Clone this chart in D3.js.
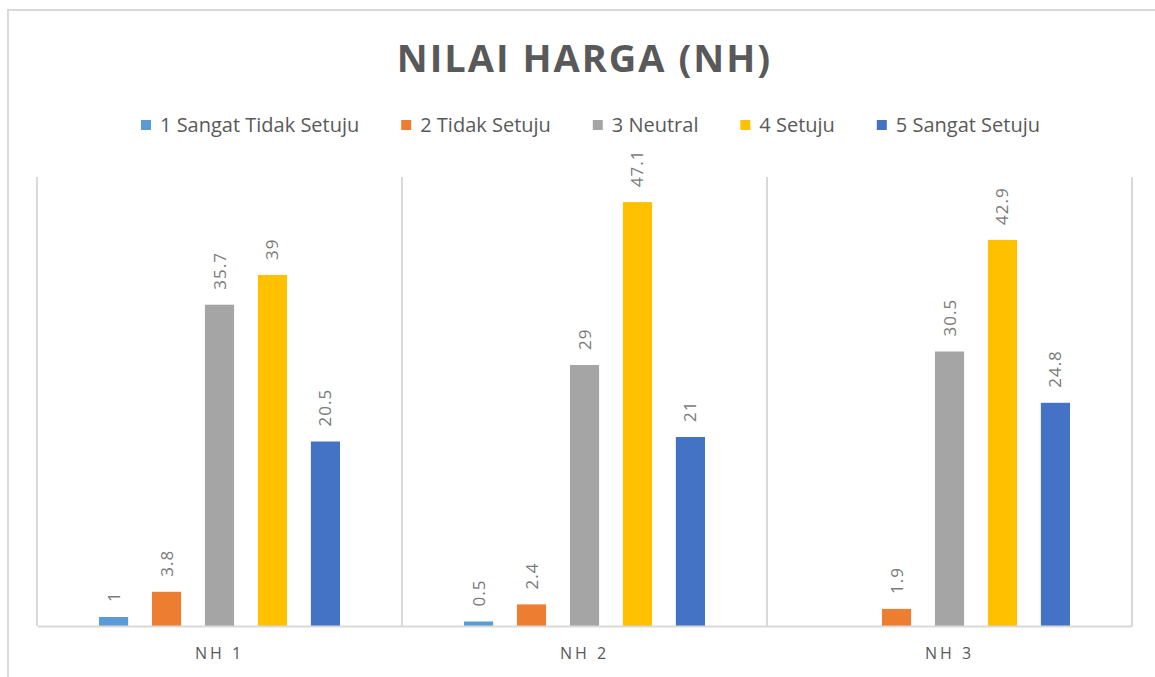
<!DOCTYPE html>
<html>
<head>
<meta charset="utf-8">
<script src="https://cdn.jsdelivr.net/npm/d3@7"></script>
<style>
  body { margin: 0; background: #fff; }
  svg { display: block; }
</style>
</head>
<body>
<script>
// chart values
var categories = ["NH 1", "NH 2", "NH 3"];
var seriesNames = ["1 Sangat Tidak Setuju", "2 Tidak Setuju", "3 Neutral", "4 Setuju", "5 Sangat Setuju"];
var seriesColors = ["#5B9BD5", "#ED7D31", "#A5A5A5", "#FFC000", "#4472C4"];
var sangatTidakSetuju = [1, 0.5, null];
var tidakSetuju = [3.8, 2.4, 1.9];
var neutral = [35.7, 29, 30.5];
var setuju = [39, 47.1, 42.9];
var sangatSetuju = [20.5, 21, 24.8];
var seriesValues = [sangatTidakSetuju, tidakSetuju, neutral, setuju, sangatSetuju];

var width = 1155, height = 677;
var plot = { left: 37, right: 1132, top: 176, bottom: 626 };
var font = "'Open Sans', sans-serif";

var svg = d3.select("body").append("svg")
    .attr("width", width)
    .attr("height", height);

// outer chart frame (only top and left edges visible)
svg.append("path")
    .attr("d", "M8,690 L8,10 L1160,10")
    .attr("fill", "none")
    .attr("stroke", "#d9d9d9")
    .attr("stroke-width", 2);

// title
svg.append("text")
    .attr("x", (plot.left + plot.right) / 2)
    .attr("y", 72)
    .attr("text-anchor", "middle")
    .attr("font-family", font)
    .attr("font-weight", "bold")
    .attr("font-size", 38)
    .attr("letter-spacing", 2)
    .attr("fill", "#595959")
    .text("NILAI HARGA (NH)");

// scales
var x0 = d3.scaleBand()
    .domain(categories)
    .range([plot.left, plot.right]);

var x1 = d3.scaleBand()
    .domain(seriesNames)
    .range([62, x0.bandwidth() - 62])
    .paddingInner(0.45);

var y = d3.scaleLinear()
    .domain([0, 50])
    .range([plot.bottom, plot.top]);

// category separators
var seps = categories.map(function(c) { return x0(c); }).concat([plot.right]);
svg.selectAll("line.sep")
    .data(seps)
    .enter()
    .append("line")
    .attr("class", "sep")
    .attr("x1", function(d) { return d; })
    .attr("x2", function(d) { return d; })
    .attr("y1", plot.top + 1)
    .attr("y2", plot.bottom)
    .attr("stroke", "#d9d9d9")
    .attr("stroke-width", 2);

// bars
var bars = [];
categories.forEach(function(c, ci) {
  seriesNames.forEach(function(s, si) {
    var v = seriesValues[si][ci];
    if (v === null) return;
    bars.push({ cat: c, series: s, si: si, value: v });
  });
});

svg.selectAll("rect.bar")
    .data(bars)
    .enter()
    .append("rect")
    .attr("class", "bar")
    .attr("x", function(d) { return x0(d.cat) + x1(d.series); })
    .attr("y", function(d) { return y(d.value); })
    .attr("width", x1.bandwidth())
    .attr("height", function(d) { return y(0) - y(d.value); })
    .attr("fill", function(d) { return seriesColors[d.si]; });

// data labels (rotated)
svg.selectAll("text.lbl")
    .data(bars)
    .enter()
    .append("text")
    .attr("class", "lbl")
    .attr("transform", function(d) {
      var cx = x0(d.cat) + x1(d.series) + x1.bandwidth() / 2 + 6;
      return "translate(" + cx + "," + (y(d.value) - 15) + ") rotate(-90)";
    })
    .attr("text-anchor", "start")
    .attr("font-family", font)
    .attr("font-size", 17)
    .attr("letter-spacing", 1)
    .attr("fill", "#7a7a7a")
    .text(function(d) { return d.value; });

// x axis
var xAxis = d3.axisBottom(x0).tickSize(0).tickPadding(22);
var gx = svg.append("g")
    .attr("transform", "translate(0," + plot.bottom + ")")
    .call(xAxis);
gx.select(".domain")
    .attr("stroke", "#d9d9d9")
    .attr("stroke-width", 2);
gx.selectAll("text")
    .attr("font-family", font)
    .attr("font-size", 16)
    .attr("letter-spacing", 3)
    .attr("fill", "#595959");

// legend
var legend = svg.append("g");
var items = legend.selectAll("g.item")
    .data(seriesNames)
    .enter()
    .append("g")
    .attr("class", "item");
items.append("rect")
    .attr("y", 120)
    .attr("width", 10)
    .attr("height", 10)
    .attr("fill", function(d, i) { return seriesColors[i]; });
items.append("text")
    .attr("x", 19)
    .attr("y", 132)
    .attr("font-family", font)
    .attr("font-size", 20)
    .attr("fill", "#595959")
    .text(function(d) { return d; });

// spread the legend items over the same span as the reference
var legendLeft = 141, legendRight = 1040;
var widths = [];
items.each(function() {
  widths.push(19 + d3.select(this).select("text").node().getComputedTextLength());
});
var gap = (legendRight - legendLeft - d3.sum(widths)) / (widths.length - 1);
var xpos = legendLeft, offsets = [];
widths.forEach(function(w) { offsets.push(xpos); xpos += w + gap; });
items.attr("transform", function(d, i) { return "translate(" + offsets[i] + ",0)"; });
</script>
</body>
</html>
